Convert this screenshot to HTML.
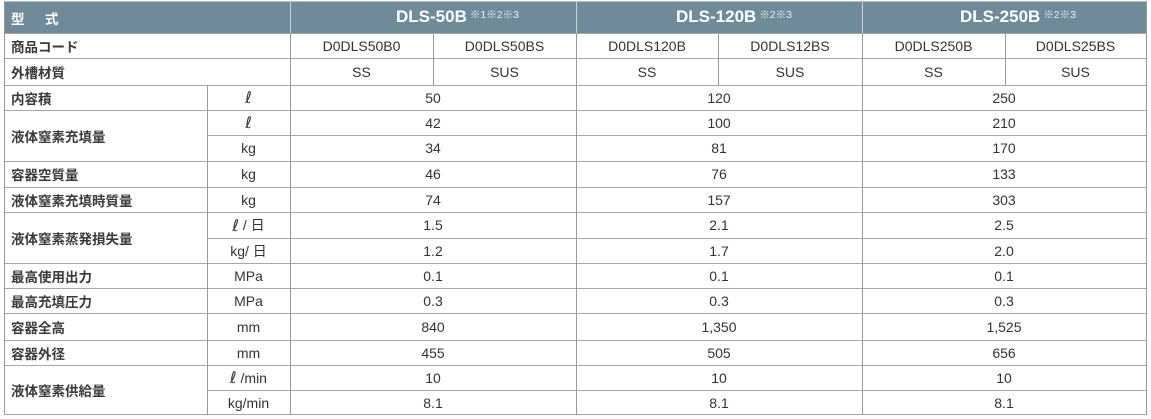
<!DOCTYPE html>
<html><head><meta charset="utf-8">
<style>
html,body{margin:0;padding:0;background:#fff;}
body{width:1151px;height:419px;position:relative;overflow:hidden;font-family:"Liberation Sans","Noto Sans CJK JP",sans-serif;color:#333;}
.c{position:absolute;display:flex;align-items:center;justify-content:center;font-size:14px;white-space:nowrap;}
.l{justify-content:flex-start;font-family:"Liberation Sans","Noto Sans CJK JP",sans-serif;font-size:13.5px;color:#3a3a3a;font-weight:bold;}
.h{position:absolute;height:1px;background:#a8a8a8;}
.v{position:absolute;width:1px;background:#999;}
.hd{position:absolute;left:4px;top:2px;width:1142px;height:31px;background:#6f8b9a;}
.hv{position:absolute;top:2px;height:31px;width:1px;background:#c9d4da;}
.ht{position:absolute;color:#fff;font-weight:bold;font-size:17px;line-height:20px;top:7px;white-space:nowrap;}
.ht sup{font-size:10.5px;font-weight:normal;vertical-align:top;position:relative;top:-2px;margin-left:3px;font-family:"Liberation Sans","Noto Sans CJK JP",sans-serif;color:#e8eef1;}
.kt{position:absolute;color:#fff;font-size:13.5px;top:8px;font-weight:bold;font-family:"Liberation Sans","Noto Sans CJK JP",sans-serif;}
.u{font-size:16px;font-family:"DejaVu Sans",sans-serif;font-style:italic;}
.un{color:#333;}
</style></head><body>

<!-- header -->
<div class="h" style="left:4px;top:1px;width:1142px;background:#bcbcbc;"></div>
<div class="hd"></div>
<div class="hv" style="left:290px;"></div>
<div class="hv" style="left:576px;"></div>
<div class="hv" style="left:862px;"></div>
<div class="kt" style="left:11px;">型</div>
<div class="kt" style="left:45px;">式</div>
<div class="ht" style="left:396px;">DLS-50B<sup>※1※2※3</sup></div>
<div class="ht" style="left:676px;">DLS-120B<sup>※2※3</sup></div>
<div class="ht" style="left:960px;">DLS-250B<sup>※2※3</sup></div>

<!-- horizontal lines -->
<div class="h" style="left:4px;top:33px;width:1143px;"></div>
<div class="h" style="left:4px;top:58px;width:1143px;"></div>
<div class="h" style="left:4px;top:85px;width:1143px;"></div>
<div class="h" style="left:4px;top:110px;width:1143px;"></div>
<div class="h" style="left:207px;top:135px;width:940px;"></div>
<div class="h" style="left:4px;top:161px;width:1143px;"></div>
<div class="h" style="left:4px;top:187px;width:1143px;"></div>
<div class="h" style="left:4px;top:212px;width:1143px;"></div>
<div class="h" style="left:207px;top:238px;width:940px;"></div>
<div class="h" style="left:4px;top:263px;width:1143px;"></div>
<div class="h" style="left:4px;top:288px;width:1143px;"></div>
<div class="h" style="left:4px;top:313px;width:1143px;"></div>
<div class="h" style="left:4px;top:340px;width:1143px;"></div>
<div class="h" style="left:4px;top:365px;width:1143px;"></div>
<div class="h" style="left:207px;top:390px;width:940px;"></div>
<div class="h" style="left:4px;top:414px;width:1143px;"></div>

<!-- vertical lines -->
<div class="v" style="left:4px;top:1px;height:414px;"></div>
<div class="v" style="left:1146px;top:1px;height:414px;"></div>
<div class="v" style="left:207px;top:85px;height:330px;"></div>
<div class="v" style="left:290px;top:33px;height:382px;"></div>
<div class="v" style="left:576px;top:33px;height:382px;"></div>
<div class="v" style="left:862px;top:33px;height:382px;"></div>
<div class="v" style="left:433px;top:33px;height:52px;"></div>
<div class="v" style="left:718px;top:33px;height:52px;"></div>
<div class="v" style="left:1005px;top:33px;height:52px;"></div>

<!-- labels -->
<div class="c l" style="left:11px;top:33px;height:25px;">商品コード</div>
<div class="c l" style="left:11px;top:58px;height:27px;">外槽材質</div>
<div class="c l" style="left:11px;top:85px;height:25px;">内容積</div>
<div class="c l" style="left:11px;top:110px;height:51px;">液体窒素充填量</div>
<div class="c l" style="left:11px;top:161px;height:26px;">容器空質量</div>
<div class="c l" style="left:11px;top:187px;height:25px;">液体窒素充填時質量</div>
<div class="c l" style="left:11px;top:212px;height:51px;">液体窒素蒸発損失量</div>
<div class="c l" style="left:11px;top:263px;height:25px;">最高使用出力</div>
<div class="c l" style="left:11px;top:288px;height:25px;">最高充填圧力</div>
<div class="c l" style="left:11px;top:313px;height:27px;">容器全高</div>
<div class="c l" style="left:11px;top:340px;height:25px;">容器外径</div>
<div class="c l" style="left:11px;top:365px;height:50px;">液体窒素供給量</div>

<!-- units -->
<div class="c un" style="left:207px;width:83px;top:85px;height:25px;"><span class="u">ℓ</span></div>
<div class="c un" style="left:207px;width:83px;top:110px;height:25px;"><span class="u">ℓ</span></div>
<div class="c un" style="left:207px;width:83px;top:135px;height:26px;">kg</div>
<div class="c un" style="left:207px;width:83px;top:161px;height:26px;">kg</div>
<div class="c un" style="left:207px;width:83px;top:187px;height:25px;">kg</div>
<div class="c un" style="left:207px;width:83px;top:212px;height:26px;"><span class="u">ℓ</span>&nbsp;/&nbsp;日</div>
<div class="c un" style="left:207px;width:83px;top:238px;height:25px;">kg/&nbsp;日</div>
<div class="c un" style="left:207px;width:83px;top:263px;height:25px;">MPa</div>
<div class="c un" style="left:207px;width:83px;top:288px;height:25px;">MPa</div>
<div class="c un" style="left:207px;width:83px;top:313px;height:27px;">mm</div>
<div class="c un" style="left:207px;width:83px;top:340px;height:25px;">mm</div>
<div class="c un" style="left:207px;width:83px;top:365px;height:25px;"><span class="u">ℓ</span>&nbsp;/min</div>
<div class="c un" style="left:207px;width:83px;top:390px;height:25px;">kg/min</div>

<!-- product codes -->
<div class="c" style="left:290px;width:143px;top:33px;height:25px;">D0DLS50B0</div>
<div class="c" style="left:433px;width:143px;top:33px;height:25px;">D0DLS50BS</div>
<div class="c" style="left:576px;width:142px;top:33px;height:25px;">D0DLS120B</div>
<div class="c" style="left:718px;width:144px;top:33px;height:25px;">D0DLS12BS</div>
<div class="c" style="left:862px;width:143px;top:33px;height:25px;">D0DLS250B</div>
<div class="c" style="left:1005px;width:141px;top:33px;height:25px;">D0DLS25BS</div>
<!-- material -->
<div class="c" style="left:290px;width:143px;top:58px;height:27px;">SS</div>
<div class="c" style="left:433px;width:143px;top:58px;height:27px;">SUS</div>
<div class="c" style="left:576px;width:142px;top:58px;height:27px;">SS</div>
<div class="c" style="left:718px;width:144px;top:58px;height:27px;">SUS</div>
<div class="c" style="left:862px;width:143px;top:58px;height:27px;">SS</div>
<div class="c" style="left:1005px;width:141px;top:58px;height:27px;">SUS</div>

<!-- values G1 -->
<div class="c" style="left:290px;width:286px;top:85px;height:25px;">50</div>
<div class="c" style="left:290px;width:286px;top:110px;height:25px;">42</div>
<div class="c" style="left:290px;width:286px;top:135px;height:26px;">34</div>
<div class="c" style="left:290px;width:286px;top:161px;height:26px;">46</div>
<div class="c" style="left:290px;width:286px;top:187px;height:25px;">74</div>
<div class="c" style="left:290px;width:286px;top:212px;height:26px;">1.5</div>
<div class="c" style="left:290px;width:286px;top:238px;height:25px;">1.2</div>
<div class="c" style="left:290px;width:286px;top:263px;height:25px;">0.1</div>
<div class="c" style="left:290px;width:286px;top:288px;height:25px;">0.3</div>
<div class="c" style="left:290px;width:286px;top:313px;height:27px;">840</div>
<div class="c" style="left:290px;width:286px;top:340px;height:25px;">455</div>
<div class="c" style="left:290px;width:286px;top:365px;height:25px;">10</div>
<div class="c" style="left:290px;width:286px;top:390px;height:25px;">8.1</div>

<!-- values G2 -->
<div class="c" style="left:576px;width:286px;top:85px;height:25px;">120</div>
<div class="c" style="left:576px;width:286px;top:110px;height:25px;">100</div>
<div class="c" style="left:576px;width:286px;top:135px;height:26px;">81</div>
<div class="c" style="left:576px;width:286px;top:161px;height:26px;">76</div>
<div class="c" style="left:576px;width:286px;top:187px;height:25px;">157</div>
<div class="c" style="left:576px;width:286px;top:212px;height:26px;">2.1</div>
<div class="c" style="left:576px;width:286px;top:238px;height:25px;">1.7</div>
<div class="c" style="left:576px;width:286px;top:263px;height:25px;">0.1</div>
<div class="c" style="left:576px;width:286px;top:288px;height:25px;">0.3</div>
<div class="c" style="left:576px;width:286px;top:313px;height:27px;">1,350</div>
<div class="c" style="left:576px;width:286px;top:340px;height:25px;">505</div>
<div class="c" style="left:576px;width:286px;top:365px;height:25px;">10</div>
<div class="c" style="left:576px;width:286px;top:390px;height:25px;">8.1</div>

<!-- values G3 -->
<div class="c" style="left:862px;width:284px;top:85px;height:25px;">250</div>
<div class="c" style="left:862px;width:284px;top:110px;height:25px;">210</div>
<div class="c" style="left:862px;width:284px;top:135px;height:26px;">170</div>
<div class="c" style="left:862px;width:284px;top:161px;height:26px;">133</div>
<div class="c" style="left:862px;width:284px;top:187px;height:25px;">303</div>
<div class="c" style="left:862px;width:284px;top:212px;height:26px;">2.5</div>
<div class="c" style="left:862px;width:284px;top:238px;height:25px;">2.0</div>
<div class="c" style="left:862px;width:284px;top:263px;height:25px;">0.1</div>
<div class="c" style="left:862px;width:284px;top:288px;height:25px;">0.3</div>
<div class="c" style="left:862px;width:284px;top:313px;height:27px;">1,525</div>
<div class="c" style="left:862px;width:284px;top:340px;height:25px;">656</div>
<div class="c" style="left:862px;width:284px;top:365px;height:25px;">10</div>
<div class="c" style="left:862px;width:284px;top:390px;height:25px;">8.1</div>

</body></html>
